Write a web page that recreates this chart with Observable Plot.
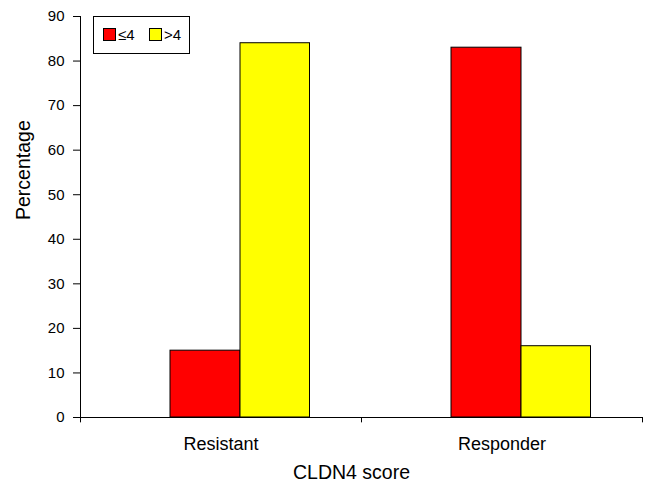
<!DOCTYPE html>
<html><head><meta charset="utf-8">
<script src="https://cdn.jsdelivr.net/npm/d3@7"></script>
<script src="https://cdn.jsdelivr.net/npm/@observablehq/plot@0.6"></script>
<style>
body{margin:0;background:#fff;font-family:"Liberation Sans",Arial,Helvetica,sans-serif;}
#wrap{position:relative;width:645px;height:482px;}
#legend{position:absolute;left:93px;top:16px;width:95px;height:36px;border:1px solid #000;background:#fff;font-size:15px;color:#000;}
.item{position:absolute;top:11px;height:14px;line-height:14px;white-space:nowrap;}
.sw{display:inline-block;width:11px;height:11px;border:1px solid #000;vertical-align:top;margin-top:0px;margin-right:2px;}
</style></head><body><div id="wrap"></div>
<script>
const categories = ["Resistant", "Responder"];
const groups = ["≤4", ">4"];
const lowValues = [15, 83];   // ≤4
const highValues = [84, 16];  // >4
const yTicks = [0, 10, 20, 30, 40, 50, 60, 70, 80, 90];
const colors = ["#ff0000", "#ffff00"];

const lowRows = categories.map((c, i) => ({category: c, group: groups[0], value: lowValues[i]}));
const highRows = categories.map((c, i) => ({category: c, group: groups[1], value: highValues[i]}));

const font = "Liberation Sans, Arial, Helvetica, sans-serif";

const chart = Plot.plot({
  width: 645,
  height: 482,
  marginLeft: 80,
  marginRight: 3,
  marginTop: 16,
  marginBottom: 65,
  style: {fontFamily: font, color: "#000", background: "#fff", overflow: "visible"},
  x: {domain: categories, padding: 0, axis: null},
  y: {domain: [0, 90], axis: null},
  marks: [
    Plot.barY(lowRows, {x: "category", y: "value", fill: colors[0], stroke: "#000", strokeWidth: 1, insetLeft: 90, insetRight: 121}),
    Plot.barY(highRows, {x: "category", y: "value", fill: colors[1], stroke: "#000", strokeWidth: 1, insetLeft: 160, insetRight: 51.5}),
    Plot.axisY({ticks: yTicks, tickSize: 7, tickPadding: 9, fontSize: 15, label: null}),
    Plot.axisX({tickSize: 0, tickPadding: 20, fontSize: 18, label: null}),
    Plot.frame({anchor: "left"}),
    Plot.ruleY([0]),
    Plot.ruleX(categories, {x: d => d, y1: 0, y2: -1.2, dx: -140.5}),
    Plot.ruleX(categories.slice(-1), {x: d => d, y1: 0, y2: -1.2, dx: 140.5}),
    Plot.text(["CLDN4 score"], {frameAnchor: "bottom", dy: 55, dx: -10, fontSize: 19.5, lineAnchor: "middle"}),
    Plot.text(["Percentage"], {frameAnchor: "left", dx: -57, dy: 3, rotate: -90, fontSize: 19.5, lineAnchor: "middle"})
  ]
});
const wrap = document.getElementById("wrap");
wrap.appendChild(chart);

const legend = document.createElement("div");
legend.id = "legend";
legend.innerHTML = groups.map((g, i) =>
  `<span class="item" style="left:${i === 0 ? 9 : 55}px"><span class="sw" style="background:${colors[i]}"></span>${g}</span>`
).join("");
wrap.appendChild(legend);
</script>
</body></html>
